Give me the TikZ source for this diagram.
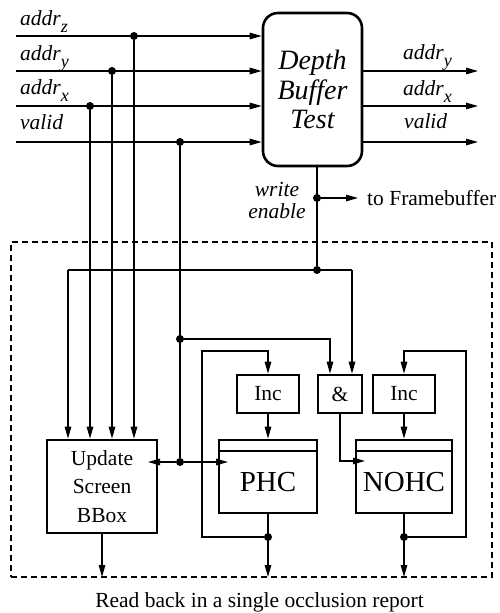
\documentclass[tikz,border=0pt]{standalone}
\usepackage{fontspec}
\setmainfont{Liberation Serif}
\usetikzlibrary{arrows.meta,calc}

% italic subscript set in text fonts
\newcommand\isub[1]{\raisebox{-7pt}{\fontsize{18}{18}\selectfont\itshape #1}}

\tikzset{
  wire/.style={line width=1.3pt},
  arr/.style={line width=1.3pt,-{Triangle[length=12pt,width=6.5pt]}},
  dot/.style={circle,fill,inner sep=0pt,minimum size=8pt},
  blk/.style={draw,line width=2.6pt,inner sep=0pt},
  rmtext/.style={font=\fontsize{21.5}{28.5}\selectfont,inner sep=0pt},
  ittext/.style={font=\fontsize{21.5}{22}\selectfont\itshape,inner sep=0pt},
  bigtext/.style={font=\fontsize{29}{29}\selectfont,inner sep=0pt},
}

\begin{document}
\begin{tikzpicture}[x=1pt,y=-1pt]
\useasboundingbox (0,0) rectangle (499,613);

% depth buffer test unit
\node[blk,rounded corners=15pt,minimum width=99pt,minimum height=153pt,
      align=center,font=\fontsize{28}{29.5}\selectfont\itshape] (dbt) at (312.5,89.5)
      {Depth\\Buffer\\Test};

% incoming signals
\coordinate (inz) at (16,36);
\coordinate (iny) at (16,71);
\coordinate (inx) at (16,106);
\coordinate (inv) at (16,142);
\draw[arr] (inz) -- (inz -| dbt.west);
\draw[arr] (iny) -- (iny -| dbt.west);
\draw[arr] (inx) -- (inx -| dbt.west);
\draw[arr] (inv) -- (inv -| dbt.west);
\node[ittext,anchor=base west] (lz) at (20,25) {addr\isub{z}};
\node[ittext,anchor=base west] (ly) at (20,60) {addr\isub{y}};
\node[ittext,anchor=base west] (lx) at (20,94) {addr\isub{x}};
\node[ittext,anchor=base west] (lv) at (20,129) {valid};

% outgoing signals
\coordinate (oy) at (478,71);
\coordinate (ox) at (478,106);
\coordinate (ov) at (478,142);
\draw[arr] (oy -| dbt.east) -- (oy);
\draw[arr] (ox -| dbt.east) -- (ox);
\draw[arr] (ov -| dbt.east) -- (ov);
\node[ittext,anchor=base west] (ry) at (403,59) {addr\isub{y}};
\node[ittext,anchor=base west] (rx) at (403,95) {addr\isub{x}};
\node[ittext,anchor=base west] (rv) at (404,128) {valid};

% write enable
\node[dot] (we) at (317,198) {};
\node[dot] (wd) at (317,270) {};
\draw[wire] (we |- dbt.south) -- (wd);
\coordinate (fb) at (358,198);
\draw[arr] (we) -- (fb);
\node[rmtext,anchor=west] (fbt) at (367,198) {to Framebuffer};
\node[ittext,align=center] (wel) at (277,200) {write\\enable};

% occlusion query unit
\node[draw,line width=2.7pt,dash pattern=on 6pt off 4pt,outer sep=0pt,
      minimum width=481pt,minimum height=335pt,inner sep=0pt] (frame) at (251.5,409.5) {};

\node[blk,minimum width=110pt,minimum height=93pt,align=center,rmtext] (upd) at (102,486.5)
      {Update\\Screen\\BBox};
\node[blk,minimum width=62pt,minimum height=38pt,rmtext] (inc1) at (268,394) {Inc};
\node[blk,minimum width=44pt,minimum height=38pt,rmtext] (and) at (340,394) {\&};
\node[blk,minimum width=62pt,minimum height=38pt,rmtext] (inc2) at (404,394) {Inc};
\node[blk,minimum width=98pt,minimum height=73pt] (phc) at (268,476.5) {};
\node[blk,minimum width=96pt,minimum height=73pt] (nohc) at (404,476.5) {};
\coordinate (hdr) at (0,451);
\draw[line width=2.6pt] (hdr -| phc.west) -- (hdr -| phc.east);
\draw[line width=2.6pt] (hdr -| nohc.west) -- (hdr -| nohc.east);
\node[bigtext] (phct) at (268,482) {PHC};
\node[bigtext] (nohct) at (404,482) {NOHC};

% address taps into the bounding box update
\node[dot] (dz) at (134,36) {};
\node[dot] (dy) at (112,71) {};
\node[dot] (dx) at (90,106) {};
\draw[arr] (dz) -- (dz |- upd.north);
\draw[arr] (dy) -- (dy |- upd.north);
\draw[arr] (dx) -- (dx |- upd.north);

% write enable distribution
\coordinate (wl) at (68,270);
\coordinate (wr) at (352,270);
\draw[wire] (wl) -- (wr);
\draw[arr] (wl) -- (wl |- upd.north);
\draw[arr] (wr) -- (wr |- and.north);

% valid distribution
\node[dot] (dv) at (180,142) {};
\node[dot] (dv2) at (180,339) {};
\node[dot] (dv3) at (180,462) {};
\draw[wire] (dv) -- (dv3);
\coordinate (va) at (330,339);
\draw[arr] (dv2) -- (va) -- (va |- and.north);
\coordinate (uin) at (148,462);
\coordinate (pin) at (228,462);
\draw[arr] (dv3) -- (uin);
\draw[arr] (dv3) -- (pin);

% AND gate into the non-occluded counter
\coordinate (ac) at (340,461);
\coordinate (nin) at (365,461);
\draw[arr] (and.south) -- (ac) -- (nin);

% incrementers
\draw[arr] (inc1.south) -- (inc1.south |- phc.north);
\draw[arr] (inc2.south) -- (inc2.south |- nohc.north);

% counter outputs and feedback loops
\node[dot] (pd) at (268,537) {};
\node[dot] (nd) at (404,537) {};
\draw[arr] (phc.south) -- (phc.south |- frame.south);
\draw[arr] (nohc.south) -- (nohc.south |- frame.south);
\draw[arr] (upd.south) -- (upd.south |- frame.south);
\coordinate (pa) at (202,351);
\coordinate (na) at (466,351);
\draw[arr] (pd) -- (pd -| pa) -- (pa) -- (pa -| inc1.north) -- (inc1.north);
\draw[arr] (nd) -- (nd -| na) -- (na) -- (na -| inc2.north) -- (inc2.north);

\node[rmtext,anchor=base] (rb) at (259.5,607) {Read back in a single occlusion report};
\end{tikzpicture}
\end{document}
